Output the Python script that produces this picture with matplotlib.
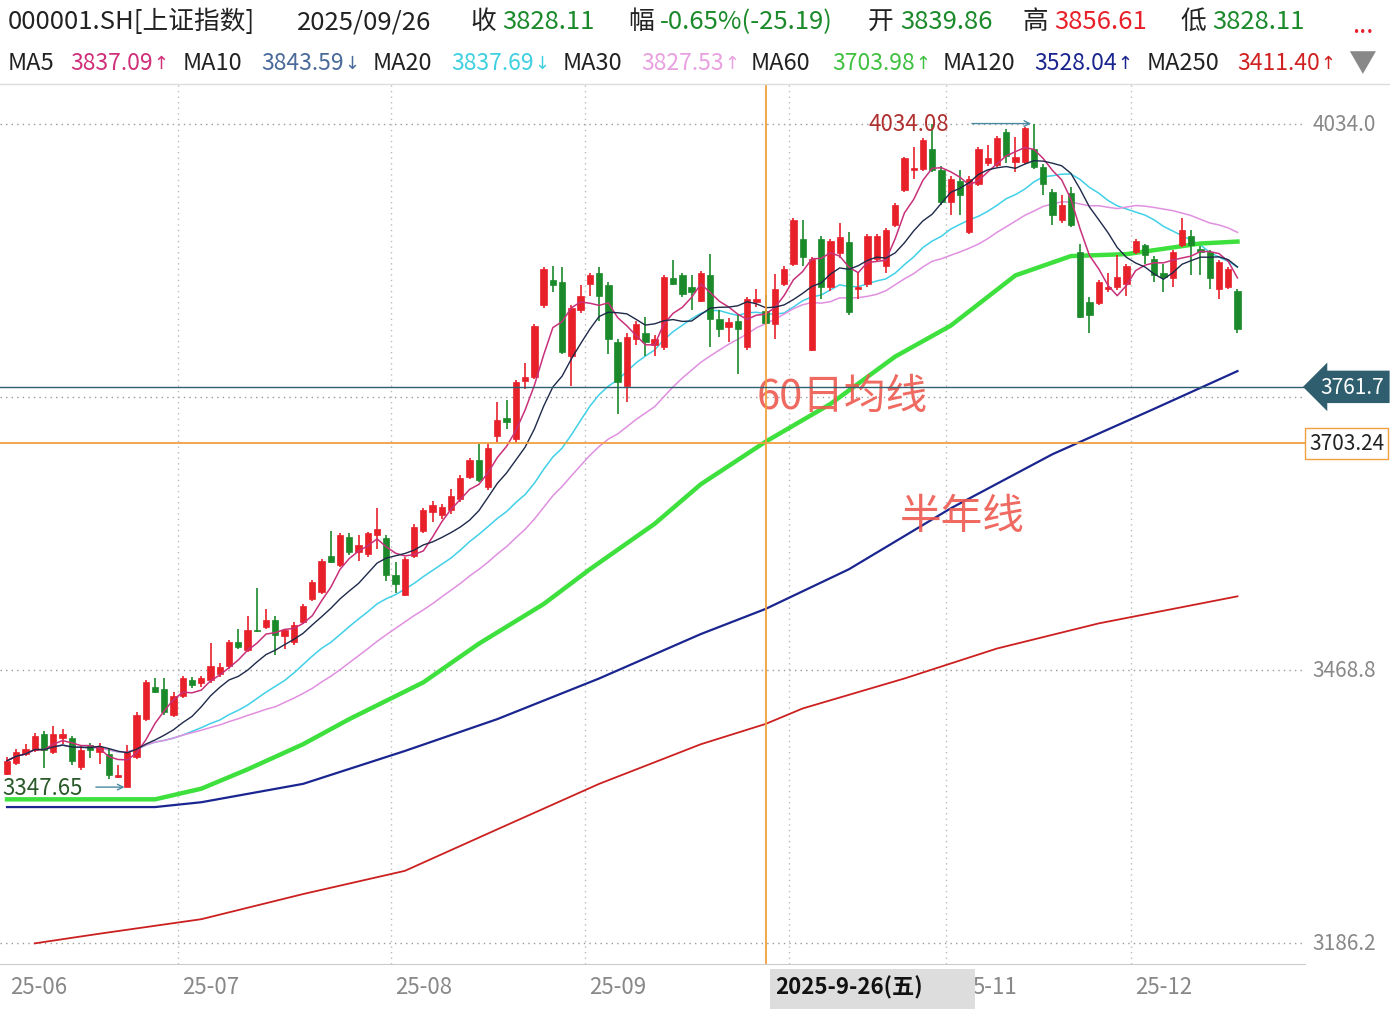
import matplotlib
matplotlib.use("Agg")
import matplotlib.pyplot as plt
import numpy as np
import pandas as pd

plt.rcParams['font.family'] = ['Noto Sans CJK SC', 'DejaVu Sans']

# daily candles (index order)
opens = [3361, 3373, 3382, 3386, 3403, 3384, 3398, 3398, 3368, 3391, 3384, 3382, 3358, 3348, 3379,
         3418, 3451, 3449, 3422, 3442, 3458, 3455, 3458, 3465, 3473, 3498, 3489, 3510, 3513, 3520,
         3504, 3498, 3518, 3542, 3549, 3587, 3577, 3606, 3591, 3589, 3608, 3605, 3567, 3546, 3587,
         3613, 3632, 3629, 3634, 3646, 3668, 3686, 3658, 3711, 3729, 3708, 3768, 3772, 3846, 3872,
         3870, 3794, 3841, 3868, 3879, 3867, 3808, 3763, 3811, 3817, 3805, 3803, 3874, 3877, 3865,
         3851, 3877, 3832, 3824, 3830, 3803, 3849, 3839.86, 3827, 3868, 3889, 3915, 3800, 3915, 3865,
         3900, 3912, 3863, 3868, 3894, 3887, 3929, 3965, 3986, 3987, 4008, 3986, 3953, 3975, 3922,
         3972, 3993, 3991, 4025, 3994, 3994, 4008, 3989, 3963, 3934, 3962, 3901, 3849, 3848, 3863,
         3865, 3868, 3901, 3908, 3894, 3880, 3874, 3908, 3918, 3904, 3901, 3863, 3865, 3861]
closes = [3375, 3384, 3387, 3400, 3386, 3403, 3403, 3375, 3386, 3386, 3389, 3360, 3360, 3384, 3422,
          3456, 3446, 3425, 3442, 3460, 3453, 3460, 3473, 3472, 3498, 3493, 3510, 3509, 3520, 3505,
          3510, 3515, 3535, 3560, 3582, 3580, 3608, 3591, 3598, 3610, 3615, 3567, 3558, 3584, 3617,
          3634, 3639, 3637, 3649, 3667, 3686, 3665, 3698, 3727, 3725, 3767, 3772, 3825, 3884, 3867,
          3798, 3843, 3856, 3877, 3856, 3811, 3767, 3813, 3827, 3808, 3811, 3875, 3868, 3858, 3860,
          3879, 3832, 3822, 3829, 3822, 3853, 3853, 3828.11, 3863, 3884, 3934, 3896, 3894, 3865, 3913,
          3917, 3839, 3865, 3918, 3918, 3924, 3950, 3998, 3988, 4017, 3986, 3953, 3977, 3960, 3977,
          4008, 3998, 4019, 4001, 3999, 4029, 3989, 3972, 3939, 3950, 3929, 3834, 3836, 3870, 3865,
          3875, 3887, 3913, 3898, 3877, 3875, 3901, 3924, 3908, 3901, 3874, 3891, 3884, 3822]
highs = [3379, 3387, 3392, 3404, 3406, 3411, 3408, 3401, 3390, 3393, 3393, 3388, 3370, 3391, 3425,
         3458, 3461, 3461, 3446, 3463, 3462, 3463, 3497, 3476, 3500, 3511, 3525, 3554, 3532, 3525,
         3511, 3518, 3537, 3562, 3584, 3613, 3610, 3610, 3608, 3612, 3636, 3608, 3580, 3586, 3620,
         3636, 3644, 3641, 3656, 3670, 3688, 3703, 3703, 3746, 3748, 3769, 3786, 3827, 3886, 3887,
         3886, 3846, 3867, 3880, 3886, 3870, 3811, 3817, 3830, 3834, 3815, 3877, 3893, 3880, 3877,
         3882, 3899, 3841, 3833, 3837, 3855, 3863, 3856.61, 3878, 3887, 3936, 3934, 3896, 3918, 3915,
         3931, 3922, 3880, 3920, 3920, 3926, 3952, 4000, 4010, 4019, 4034.08, 3990, 3980, 3986, 3980,
         4010, 4012, 4021, 4028, 4020, 4031, 4034, 3992, 3966, 3960, 3968, 3910, 3855, 3872, 3880,
         3898, 3889, 3915, 3910, 3897, 3889, 3903, 3936, 3924, 3907, 3903, 3893, 3886, 3863]
lows = [3360, 3370, 3380, 3384, 3367, 3382, 3392, 3370, 3365, 3378, 3372, 3356, 3357, 3347.65, 3377,
        3416, 3445, 3422, 3420, 3440, 3450, 3451, 3455, 3462, 3470, 3491, 3487, 3508, 3511, 3484,
        3491, 3495, 3516, 3540, 3547, 3579, 3575, 3588, 3582, 3586, 3594, 3561, 3548, 3545, 3585,
        3610, 3622, 3625, 3630, 3643, 3666, 3663, 3655, 3705, 3718, 3704, 3760, 3770, 3843, 3860,
        3796, 3763, 3838, 3856, 3830, 3796, 3734, 3746, 3805, 3794, 3794, 3800, 3867, 3855, 3841,
        3849, 3803, 3813, 3808, 3775, 3800, 3844, 3828.11, 3811, 3866, 3887, 3887, 3799, 3853, 3861,
        3895, 3836, 3853, 3865, 3892, 3879, 3927, 3963, 3977, 3985, 3984, 3950, 3939, 3939, 3920,
        3970, 3990, 3989, 3993, 3984, 3992, 3987, 3960, 3929, 3931, 3927, 3833, 3817, 3846, 3860,
        3862, 3856, 3899, 3889, 3870, 3860, 3865, 3906, 3877, 3877, 3863, 3853, 3863, 3817]

# long averages (vertex index, value)
ma60_idx = [0, 16, 21, 26, 32, 37, 45, 51, 58, 63, 70, 75, 82, 89, 96, 102, 109, 115, 121, 129, 133]
ma60_val = [3335, 3335, 3346, 3366, 3392, 3418, 3456, 3496, 3537, 3573, 3620, 3661, 3705, 3744,
            3793, 3825, 3877, 3897, 3899, 3910, 3912]
ma120_idx = [0, 16, 21, 32, 43, 53, 64, 75, 82, 91, 102, 113, 124, 133]
ma120_val = [3327, 3327, 3332, 3351, 3385, 3418, 3460, 3506, 3532, 3573, 3636, 3692, 3739, 3778]
ma250_idx = [3, 10, 21, 32, 43, 53, 64, 75, 82, 86, 97, 107, 118, 133]
ma250_val = [3186, 3196, 3211, 3237, 3261, 3304, 3351, 3392, 3413, 3429, 3460, 3491, 3517, 3545]

month_idx = [0, 19, 42, 63, 102, 122]
month_lbl = ['25-06', '25-07', '25-08', '25-09', '5-11', '25-12']
grid_idx = [19, 42, 63, 85, 102, 122]

RED = '#e8202a'
GREEN = '#1b8a2b'

fig = plt.figure(figsize=(13.9, 10.12), dpi=100)
ax = fig.add_axes([0, 0.0464, 1305 / 1390, 0.916 - 0.0464])

x = np.arange(len(closes))
o = np.array(opens); c = np.array(closes); h = np.array(highs); l = np.array(lows)
up = c >= o
cols = np.where(up, RED, GREEN)
ax.vlines(x, l, h, colors=cols, lw=1.2, zorder=3)
ax.bar(x, np.maximum(np.abs(c - o), 1.0), bottom=np.minimum(o, c), width=0.68,
       color=cols, edgecolor=cols, lw=0.5, zorder=4)

s = pd.Series(closes)
ax.plot(x, s.rolling(5, min_periods=1).mean(), color='#c8307a', lw=1.1, zorder=5)
ax.plot(x, s.rolling(10, min_periods=1).mean(), color='#1e2a4a', lw=1.0, zorder=5)
ax.plot(x, s.rolling(20, min_periods=1).mean(), color='#40d0e8', lw=1.1, zorder=2)
ax.plot(x, s.rolling(30, min_periods=1).mean(), color='#e090e0', lw=1.1, zorder=2)
ax.plot(ma60_idx, ma60_val, color='#3ee03e', lw=3.2, zorder=2)
ax.plot(ma120_idx, ma120_val, color='#1a2590', lw=1.6, zorder=2)
ax.plot(ma250_idx, ma250_val, color='#cc2020', lw=1.3, zorder=2)

ax.set_xlim(-0.76, 140.3)
ax.set_ylim(3164.6, 4075)
for yv in [4034.0, 3751.4, 3468.8, 3186.2]:
    ax.axhline(yv, color='#999999', lw=1, ls=(0, (1, 3)), zorder=0)
for gi in grid_idx:
    ax.axvline(gi - 0.5, color='#bbbbbb', lw=1, ls=(0, (1, 3)), zorder=0)
ax.set_xticks([]); ax.set_yticks([])
for sp in ['top', 'left', 'right']:
    ax.spines[sp].set_visible(False)
ax.spines['bottom'].set_color('#cccccc')

# crosshair and level lines
ax.axvline(82, color='#f0a040', lw=1.3, zorder=6)
ax.axhline(3703.24, color='#f0a040', lw=1.3, zorder=6)
ax.axhline(3761.7, color='#2f6070', lw=1.0, zorder=6)

# right price labels
for yv, t in [(4034.0, '4034.0'), (3468.8, '3468.8'), (3186.2, '3186.2')]:
    ax.text(1.006, yv, t, transform=ax.get_yaxis_transform(), fontsize=15, color='#888888',
            va='center', ha='left', clip_on=False)
ax.text(1.012, 3761.7, '3761.7', transform=ax.get_yaxis_transform(), fontsize=15, color='white',
        va='center', ha='left', clip_on=False,
        bbox=dict(boxstyle='larrow,pad=0.25', fc='#2f5f6f', ec='none'))
ax.text(1.003, 3703.24, '3703.24', transform=ax.get_yaxis_transform(), fontsize=15, color='#222222',
        va='center', ha='left', clip_on=False,
        bbox=dict(boxstyle='square,pad=0.2', fc='white', ec='#f0a040'))

# max/min markers
ax.annotate('', xy=(111, 4034.08), xytext=(104, 4034.08),
            arrowprops=dict(arrowstyle='->', color='#4a8aa0', lw=1))
ax.text(97.5, 4034.08, '4034.08', fontsize=16, color='#b03030', va='center', ha='center')
ax.annotate('', xy=(13, 3347.65), xytext=(9.3, 3347.65),
            arrowprops=dict(arrowstyle='->', color='#4a8aa0', lw=1))
ax.text(-0.5, 3347.65, '3347.65', fontsize=16, color='#2a5a2a', va='center', ha='left')

# big notes
ax.text(81, 3752, '60日均线', fontsize=30, color='#ee5a50', alpha=0.9, va='center', ha='left')
ax.text(96.5, 3628, '半年线', fontsize=30, color='#ee5a50', alpha=0.9, va='center', ha='left')

# month labels
for mi, t in zip(month_idx, month_lbl):
    xx = mi - 0.05 if mi else 0.3
    if t == '5-11':
        xx = 104.4
    ax.text(xx, -0.012, t, transform=ax.get_xaxis_transform(), fontsize=16, color='#888888',
            va='top', ha='left', clip_on=False)
fig.patches.append(plt.Rectangle((770 / 1390, 2 / 1012), 205 / 1390, 40 / 1012,
                                 transform=fig.transFigure, fc='#dddddd', ec='none', zorder=10))
fig.text(775 / 1390, 1 - 988 / 1012, '2025-9-26(五)', fontsize=16, color='#111111',
         fontweight='bold', va='center', ha='left', zorder=11)

# header
def ht(px, py, t, col='#222222', fs=18.5, **kw):
    return fig.text(px / 1390, 1 - py / 1012, t, fontsize=fs, color=col, va='center', ha='left', **kw)

ht(8, 22, '000001.SH[上证指数]')
ht(297, 22, '2025/09/26')
ht(470, 22, '收'); ht(502, 22, '3828.11', GREEN)
ht(628, 22, '幅'); ht(660, 22, '-0.65%(-25.19)', GREEN)
ht(868, 22, '开'); ht(900, 22, '3839.86', GREEN)
ht(1022, 22, '高'); ht(1054, 22, '3856.61', RED)
ht(1180, 22, '低'); ht(1212, 22, '3828.11', GREEN)
ht(1352, 26, '...', RED)

ma_names = ['MA5', 'MA10', 'MA20', 'MA30', 'MA60', 'MA120', 'MA250']
ma_vals = ['3837.09', '3843.59', '3837.69', '3827.53', '3703.98', '3528.04', '3411.40']
ma_arrows = ['↑', '↓', '↓', '↑', '↑', '↑', '↑']
ma_col = ['#d0307a', '#4a6a9a', '#40d0e0', '#e8a0e0', '#40c040', '#1a2590', '#d02020']
name_x = [8, 183, 373, 563, 751, 943, 1147]
val_x = [70, 261, 451, 641, 832, 1034, 1237]
fig.canvas.draw()
rend = fig.canvas.get_renderer()
for n, v, a, cc, nx, vx in zip(ma_names, ma_vals, ma_arrows, ma_col, name_x, val_x):
    ht(nx, 64, n, '#222222', 17)
    tv = ht(vx, 64, v, cc, 16.5)
    ext = tv.get_window_extent(rend)
    ht(ext.x1 + 1, 64, a, cc, 13, family='DejaVu Sans')
fig.text(1362 / 1390, 1 - 64 / 1012, '▼', fontsize=20, color='#888888', va='center', ha='center')
fig.add_artist(plt.Line2D([0, 1], [1 - 85 / 1012] * 2, transform=fig.transFigure,
                          color='#dddddd', lw=1))

fig.savefig('out.png', dpi=100)
